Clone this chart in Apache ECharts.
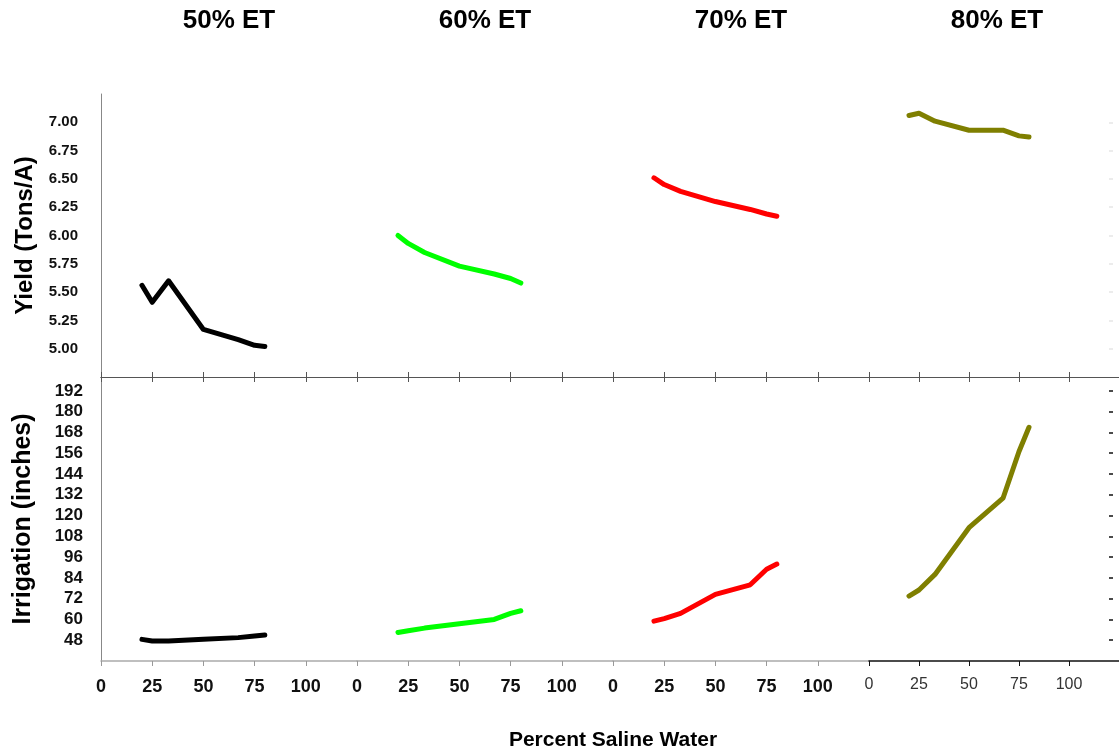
<!DOCTYPE html>
<html><head><meta charset="utf-8">
<script src="https://cdn.jsdelivr.net/npm/echarts@6/dist/echarts.min.js"></script>
<style>html,body{margin:0;padding:0;background:#fff}#c{width:1119px;height:750px}</style>
</head><body><div id="c"></div>
<script>
// ---- data ----
const panels = ['50% ET', '60% ET', '70% ET', '80% ET'];
const pct = [20, 25, 33, 50, 67, 75, 80];
const yield50 = [5.56, 5.41, 5.60, 5.17, 5.08, 5.03, 5.02];
const yield60 = [6.00, 5.93, 5.85, 5.73, 5.66, 5.62, 5.58];
const yield70 = [6.51, 6.45, 6.39, 6.30, 6.23, 6.19, 6.17];
const yield80 = [7.06, 7.08, 7.01, 6.93, 6.93, 6.88, 6.87];
const irr50 = [48.5, 47.5, 47.5, 48.5, 49.5, 50.5, 51.0];
const irr60 = [52.5, 53.5, 55.0, 57.5, 60.0, 63.5, 65.0];
const irr70 = [59.0, 60.5, 63.5, 74.5, 80.0, 89.0, 92.0];
const irr80 = [73.5, 77.0, 86.0, 113.0, 130.0, 157.0, 171.0];
const xTicks = [0, 25, 50, 75, 100];
const yieldTicks = [5.00, 5.25, 5.50, 5.75, 6.00, 6.25, 6.50, 6.75, 7.00];
const irrTicks = [48, 60, 72, 84, 96, 108, 120, 132, 144, 156, 168, 180, 192];
const colors = ['#000000', '#00ff00', '#ff0000', '#7f7f00'];

const yields = [yield50, yield60, yield70, yield80];
const irrs = [irr50, irr60, irr70, irr80];

// ---- layout ----
const FONT = '"Liberation Sans", Arial, Helvetica, sans-serif';
const L0 = 101, PW = 256, TOP = 94, MID = 377, BOT = 661;

const grid = [], xAxis = [], yAxis = [], series = [], graphic = [];
for (let c = 0; c < 4; c++) {
  grid.push({ left: L0 + PW * c, top: TOP, width: PW, height: MID - TOP });
}
for (let c = 0; c < 4; c++) {
  grid.push({ left: L0 + PW * c, top: MID, width: PW, height: BOT - MID });
}
// top-panel x axes (middle line, ticks up)
for (let c = 0; c < 4; c++) {
  xAxis.push({
    type: 'value', gridIndex: c, min: 0, max: 125, position: 'bottom',
    axisLine: { onZero: false, lineStyle: { color: '#555', width: 1 } },
    axisTick: { inside: true, length: 5, customValues: xTicks, lineStyle: { color: '#555' } },
    axisLabel: { show: false }, splitLine: { show: false }
  });
}
// bottom-panel x axes (labels)
for (let c = 0; c < 4; c++) {
  const last = c === 3;
  xAxis.push({
    type: 'value', gridIndex: 4 + c, min: 0, max: 125, position: 'bottom',
    axisLine: { onZero: false, lineStyle: { color: last ? '#111' : '#aaa', width: 1.5 } },
    axisTick: { length: 5, customValues: xTicks, lineStyle: { color: last ? '#111' : '#999' } },
    axisLabel: {
      customValues: xTicks,
      formatter: v => (xTicks.indexOf(v) >= 0 ? String(v) : ''),
      fontFamily: FONT, fontSize: last ? 16 : 18, fontWeight: last ? 'normal' : 'bold',
      color: last ? '#333' : '#111', margin: last ? 16 : 17
    },
    splitLine: { show: false }
  });
}
// bottom-panel top axes (middle line, ticks down)
for (let c = 0; c < 4; c++) {
  xAxis.push({
    type: 'value', gridIndex: 4 + c, min: 0, max: 125, position: 'top',
    axisLine: { onZero: false, lineStyle: { color: '#555', width: 1 } },
    axisTick: { inside: true, length: 5, customValues: xTicks, lineStyle: { color: '#555' } },
    axisLabel: { show: false }, splitLine: { show: false }
  });
}
const nameStyle = { fontFamily: FONT, fontWeight: 'bold', color: '#000' };
for (let c = 0; c < 4; c++) {
  yAxis.push({
    type: 'value', gridIndex: c, min: 4.75, max: 7.25, interval: 0.25, show: c === 0,
    axisLine: { show: true, onZero: false, lineStyle: { color: '#888' } },
    axisTick: { show: false },
    axisLabel: {
      customValues: yieldTicks,
      formatter: v => (v >= 4.99 && v <= 7.01 ? v.toFixed(2) : ''),
      fontFamily: FONT, fontSize: 15, fontWeight: 'bold', color: '#111', margin: 23
    },
    splitLine: { show: false },
    name: c === 0 ? 'Yield (Tons/A)' : '', nameLocation: 'middle', nameGap: 64,
    nameTextStyle: Object.assign({ fontSize: 24 }, nameStyle)
  });
}
for (let c = 0; c < 4; c++) {
  yAxis.push({
    type: 'value', gridIndex: 4 + c, min: 36, max: 200, interval: 12, show: c === 0,
    axisLine: { show: true, onZero: false, lineStyle: { color: '#888' } },
    axisTick: { show: false },
    axisLabel: {
      customValues: irrTicks,
      formatter: v => (v >= 48 && v <= 192 ? String(v) : ''),
      fontFamily: FONT, fontSize: 17, fontWeight: 'bold', color: '#111', margin: 18
    },
    splitLine: { show: false },
    name: c === 0 ? 'Irrigation (inches)' : '', nameLocation: 'middle', nameGap: 65,
    nameTextStyle: Object.assign({ fontSize: 25 }, nameStyle)
  });
}
// right edge tick marks
yAxis.push({
  type: 'value', gridIndex: 7, min: 36, max: 200, interval: 12, position: 'right', offset: -6,
  axisLine: { show: false, onZero: false }, axisLabel: { show: false }, splitLine: { show: false },
  axisTick: { inside: true, length: 4, customValues: irrTicks, lineStyle: { color: '#111', width: 1.5 } }
});
yAxis.push({
  type: 'value', gridIndex: 3, min: 4.75, max: 7.25, interval: 0.25, position: 'right', offset: -6,
  axisLine: { show: false, onZero: false }, axisLabel: { show: false }, splitLine: { show: false },
  axisTick: { inside: true, length: 4, customValues: yieldTicks, lineStyle: { color: '#e6e6e6', width: 1.5 } }
});

for (let c = 0; c < 4; c++) {
  series.push({
    type: 'line', xAxisIndex: c, yAxisIndex: c,
    data: pct.map((p, i) => [p, yields[c][i]]),
    showSymbol: false, symbol: 'none', smooth: false, clip: false,
    lineStyle: { color: colors[c], width: 5, cap: 'round', join: 'round' }
  });
  series.push({
    type: 'line', xAxisIndex: 4 + c, yAxisIndex: 4 + c,
    data: pct.map((p, i) => [p, irrs[c][i]]),
    showSymbol: false, symbol: 'none', smooth: false, clip: false,
    lineStyle: { color: colors[c], width: 5, cap: 'round', join: 'round' }
  });
  graphic.push({
    type: 'text', x: L0 + PW * c + PW / 2, y: 21,
    style: { text: panels[c], fontFamily: FONT, fontSize: 26, fontWeight: 'bold', fill: '#000',
             textAlign: 'center', textVerticalAlign: 'middle' }
  });
}
graphic.push({
  type: 'text', x: L0 + PW * 2, y: 740,
  style: { text: 'Percent Saline Water', fontFamily: FONT, fontSize: 21, fontWeight: 'bold', fill: '#000',
           textAlign: 'center', textVerticalAlign: 'middle' }
});

const chart = echarts.init(document.getElementById('c'), null, { renderer: 'canvas' });
chart.setOption({
  backgroundColor: '#fff', animation: false,
  grid, xAxis, yAxis, series, graphic
});
</script></body></html>
